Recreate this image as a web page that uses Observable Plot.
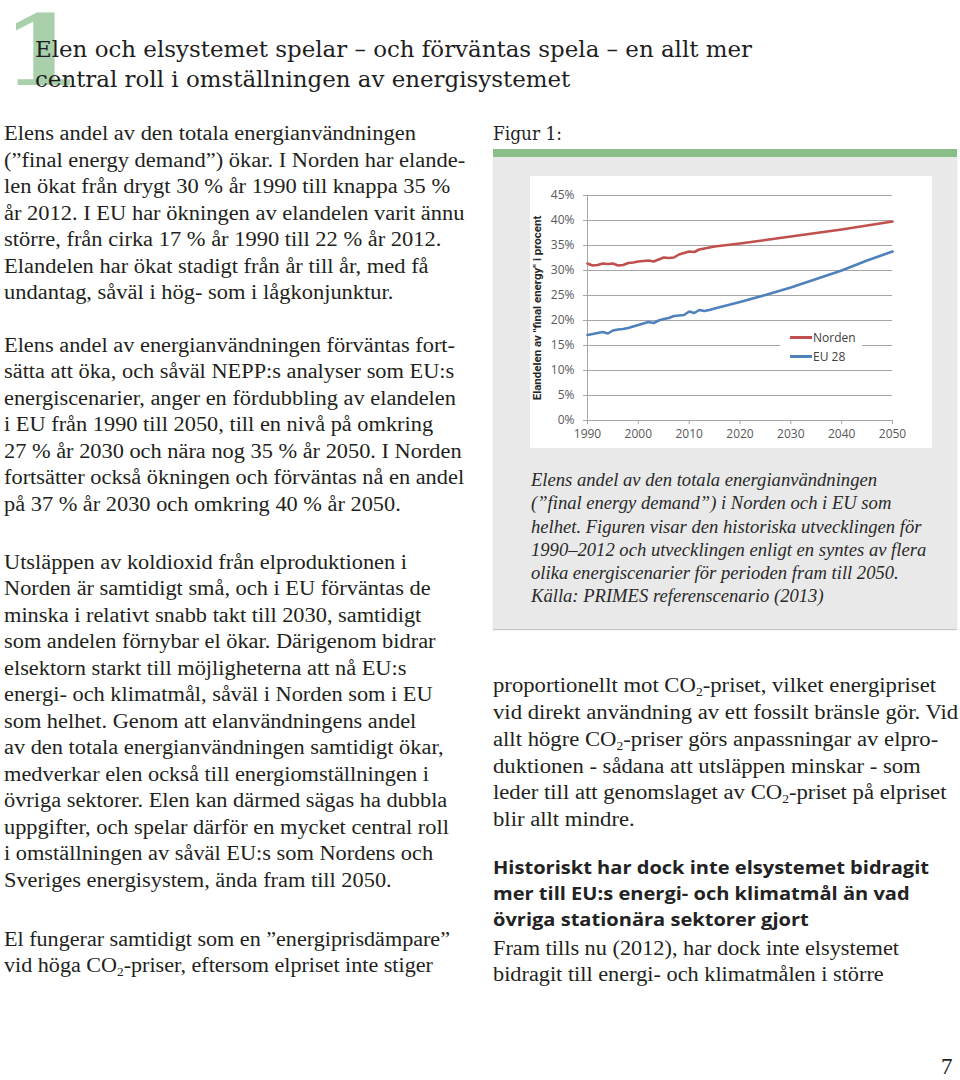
<!DOCTYPE html>
<html lang="sv">
<head>
<meta charset="utf-8">
<script src="https://cdn.jsdelivr.net/npm/d3@7"></script>
<script src="https://cdn.jsdelivr.net/npm/@observablehq/plot@0.6"></script>
<style>
  html, body { margin:0; padding:0; background:#fff; }
  body { width:960px; height:1080px; position:relative; overflow:hidden; color:#231f20; }
  .abs { position:absolute; white-space:nowrap; }
  .fit { transform-origin:0 0; }
  .fit span { display:inline-block; }
  .body { font-family:"Liberation Serif", serif; font-size:20.5px; line-height:26.5px; }
  .right { line-height:26.8px; }
  .cap { font-family:"Liberation Serif", serif; font-style:italic; font-size:18px; line-height:23.3px; color:#2a2a2a; }
  .slab { font-family:"DejaVu Serif", serif; font-stretch:condensed; }
  .head { font-family:"Open Sans", sans-serif; font-weight:700; font-size:17px; line-height:26px; color:#222; }
  sub { font-size:0.6em; line-height:0; vertical-align:-0.35em; }
  #panel { position:absolute; left:493px; top:157px; width:464px; height:472px; background:#e8e9e8; box-shadow:0 1px 1px rgba(80,110,80,0.35); }
  #bar { position:absolute; left:493px; top:149px; width:464px; height:8px; background:#88bf88; }
  #chart { position:absolute; left:530px; top:176px; width:402px; height:272px; background:#fff; }
  #legend { position:absolute; left:250px; top:150px; width:82px; height:40px; background:#fff;
            font-family:"Open Sans", sans-serif; font-size:12px; color:#404040; }
  #legend .row { position:absolute; left:10px; height:16px; line-height:16px; white-space:nowrap; }
  #legend .sw { display:inline-block; width:22px; height:3px; vertical-align:middle; margin-right:1px; position:relative; top:-1px; }
  #chart svg [aria-label$="axis tick"] { stroke:#a6a6a6; }
</style>
</head>
<body>
<div class="abs" style="left:2px; top:3px; font-family:'DejaVu Serif', serif; font-size:97px; line-height:97px; font-weight:700; color:#a9cfab; transform:scaleX(1.18); transform-origin:0 0;">1</div>
<div class="abs slab fit" data-w="717" style="left:35px; top:35px; font-size:22px; line-height:29.5px; color:#1e1e1e;"><span>Elen och elsystemet spelar – och förväntas spela – en allt mer</span><br><span>central roll i omställningen av energisystemet</span></div>

<div class="abs body fit" data-w="412" style="left:4px; top:120.3px;"><span>Elens andel av den totala energianvändningen</span><br><span>(”final energy demand”) ökar. I Norden har elande-</span><br><span>len ökat från drygt 30 % år 1990 till knappa 35 %</span><br><span>år 2012. I EU har ökningen av elandelen varit ännu</span><br><span>större, från cirka 17 % år 1990 till 22 % år 2012.</span><br><span>Elandelen har ökat stadigt från år till år, med få</span><br><span>undantag, såväl i hög- som i lågkonjunktur.</span></div>

<div class="abs body fit" data-w="451" style="left:4px; top:331.8px;"><span>Elens andel av energianvändningen förväntas fort-</span><br><span>sätta att öka, och såväl NEPP:s analyser som EU:s</span><br><span>energiscenarier, anger en fördubbling av elandelen</span><br><span>i EU från 1990 till 2050, till en nivå på omkring</span><br><span>27 % år 2030 och nära nog 35 % år 2050. I Norden</span><br><span>fortsätter också ökningen och förväntas nå en andel</span><br><span>på 37 % år 2030 och omkring 40 % år 2050.</span></div>

<div class="abs body fit" data-w="403" style="left:4px; top:548.8px;"><span>Utsläppen av koldioxid från elproduktionen i</span><br><span>Norden är samtidigt små, och i EU förväntas de</span><br><span>minska i relativt snabb takt till 2030, samtidigt</span><br><span>som andelen förnybar el ökar. Därigenom bidrar</span><br><span>elsektorn starkt till möjligheterna att nå EU:s</span><br><span>energi- och klimatmål, såväl i Norden som i EU</span><br><span>som helhet. Genom att elanvändningens andel</span><br><span>av den totala energianvändningen samtidigt ökar,</span><br><span>medverkar elen också till energiomställningen i</span><br><span>övriga sektorer. Elen kan därmed sägas ha dubbla</span><br><span>uppgifter, och spelar därför en mycket central roll</span><br><span>i omställningen av såväl EU:s som Nordens och</span><br><span>Sveriges energisystem, ända fram till 2050.</span></div>

<div class="abs body fit" data-w="446" style="left:4px; top:925.8px;"><span>El fungerar samtidigt som en ”energiprisdämpare”</span><br><span>vid höga CO<sub>2</sub>-priser, eftersom elpriset inte stiger</span></div>

<div class="abs slab fit" data-w="69" style="left:493px; top:122.8px; font-size:18px; line-height:22px; color:#222;"><span>Figur 1:</span></div>
<div id="bar"></div>
<div id="panel"></div>
<div id="chart">
  <div id="legend">
    <div class="row" style="top:4px;"><span class="sw" id="sw0"></span><span id="lg0"></span></div>
    <div class="row" style="top:23px;"><span class="sw" id="sw1"></span><span id="lg1"></span></div>
  </div>
</div>

<div class="abs cap fit" data-w="346" style="left:531px; top:469px;"><span>Elens andel av den totala energianvändningen</span><br><span>(”final energy demand”) i Norden och i EU som</span><br><span>helhet. Figuren visar den historiska utvecklingen för</span><br><span>1990–2012 och utvecklingen enligt en syntes av flera</span><br><span>olika energiscenarier för perioden fram till 2050.</span><br><span>Källa: PRIMES referenscenario (2013)</span></div>

<div class="abs body right fit" data-w="443" style="left:493px; top:672.3px;"><span>proportionellt mot CO<sub>2</sub>-priset, vilket energipriset</span><br><span>vid direkt användning av ett fossilt bränsle gör. Vid</span><br><span>allt högre CO<sub>2</sub>-priser görs anpassningar av elpro-</span><br><span>duktionen - sådana att utsläppen minskar - som</span><br><span>leder till att genomslaget av CO<sub>2</sub>-priset på elpriset</span><br><span>blir allt mindre.</span></div>

<div class="abs head fit" data-w="436" style="left:493px; top:855.4px;"><span>Historiskt har dock inte elsystemet bidragit</span><br><span>mer till EU:s energi- och klimatmål än vad</span><br><span>övriga stationära sektorer gjort</span></div>

<div class="abs body fit" data-w="406" style="left:493px; top:934.7px; line-height:26.7px;"><span>Fram tills nu (2012), har dock inte elsystemet</span><br><span>bidragit till energi- och klimatmålen i större</span></div>

<div class="abs" style="left:941px; top:1055px; font-family:'Liberation Serif', serif; font-size:23px; line-height:23px; color:#222;">7</div>

<script>
// ---- data ----
const years = [1990,1991,1992,1993,1994,1995,1996,1997,1998,1999,2000,2001,2002,2003,2004,2005,2006,2007,2008,2009,2010,2011,2012,2013,2014,2015,2020,2025,2030,2035,2040,2045,2050];
const norden = [31.4,31.0,31.1,31.4,31.3,31.4,31.0,31.1,31.5,31.6,31.8,31.9,32.0,31.8,32.2,32.6,32.5,32.6,33.2,33.5,33.8,33.7,34.2,34.4,34.6,34.8,35.4,36.1,36.8,37.5,38.2,39.0,39.8];
const eu28 = [17.1,17.3,17.5,17.7,17.4,18.0,18.2,18.3,18.5,18.8,19.1,19.4,19.7,19.5,20.0,20.3,20.5,20.9,21.0,21.1,21.8,21.5,22.1,21.9,22.1,22.4,23.7,25.1,26.6,28.3,30.0,32.0,33.8];
const seriesNames = ["Norden", "EU 28"];
const seriesColors = ["#c0504d", "#4f81bd"];
const xTicks = [1990, 2000, 2010, 2020, 2030, 2040, 2050];
const yTicks = [0, 5, 10, 15, 20, 25, 30, 35, 40, 45];
const yLabel = "Elandelen av \"final energy\" i procent";

const rows = [];
years.forEach((y, i) => {
  rows.push({year: y, value: norden[i], series: seriesNames[0]});
});
years.forEach((y, i) => {
  rows.push({year: y, value: eu28[i], series: seriesNames[1]});
});

const chart = Plot.plot({
  width: 402,
  height: 272,
  marginLeft: 57,
  marginRight: 40,
  marginTop: 19,
  marginBottom: 28,
  style: {fontFamily: "'Open Sans', sans-serif", fontSize: "12px", color: "#595959", background: "white", overflow: "visible"},
  x: {domain: [1990, 2050], ticks: xTicks, tickFormat: d => String(d), label: null, tickSize: 4, tickPadding: 5},
  y: {domain: [0, 45], ticks: yTicks, tickFormat: d => d + "%", label: null, tickSize: 4, tickPadding: 9},
  color: {domain: seriesNames, range: seriesColors},
  marks: [
    Plot.ruleY(yTicks, {stroke: "#a6a6a6", strokeWidth: 1}),
    Plot.ruleX([xTicks[0]], {stroke: "#a6a6a6", strokeWidth: 1}),
    Plot.lineY(rows, {x: "year", y: "value", z: "series", stroke: "series", strokeWidth: 2.6}),
    Plot.text([yLabel], {text: d => d, frameAnchor: "left", textAnchor: "middle", rotate: -90, dx: -50, fontSize: 11.5, fontWeight: "bold", fill: "#262626", fontFamily: "Roboto, sans-serif"})
  ]
});
const holder = document.getElementById("chart");
holder.insertBefore(chart, holder.firstChild);
chart.style.position = "absolute";
chart.style.left = "0";
chart.style.top = "0";

seriesNames.forEach((n, i) => {
  document.getElementById("lg" + i).textContent = n;
  document.getElementById("sw" + i).style.background = seriesColors[i];
});

function fitAll() {
  document.querySelectorAll(".fit").forEach(el => {
    el.style.transform = "none";
    const first = el.querySelector("span");
    const w = first.getBoundingClientRect().width;
    const target = +el.dataset.w;
    if (w > 0) el.style.transform = "scaleX(" + (target / w) + ")";
  });
}
fitAll();
if (document.fonts && document.fonts.ready) document.fonts.ready.then(fitAll);
</script>
</body>
</html>
